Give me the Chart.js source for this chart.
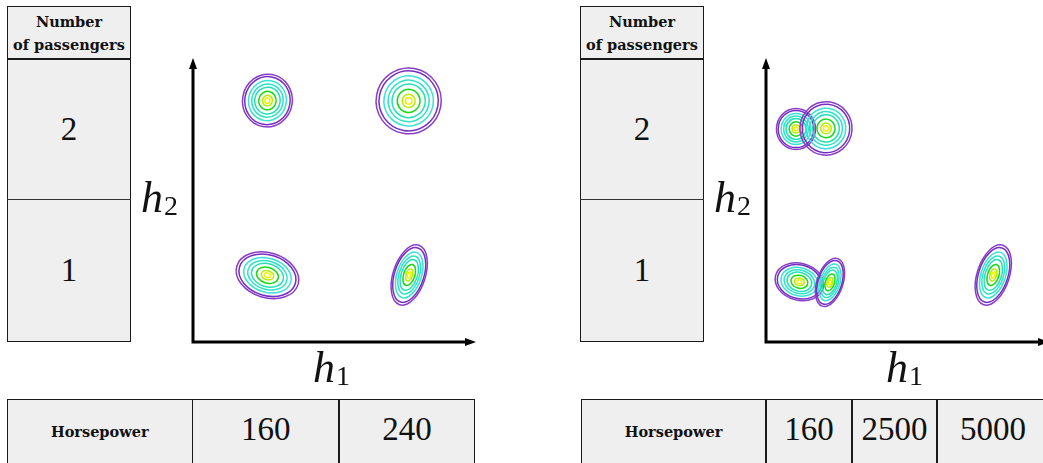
<!DOCTYPE html>
<html>
<head>
<meta charset="utf-8">
<style>
  html, body { margin: 0; padding: 0; background: #fff; width: 1043px; height: 463px; overflow: hidden; }
  body { position: relative; color: #111; }
  .box { position: absolute; box-sizing: border-box; background: #efefef; border: 1.5px solid #1a1a1a; }
  .rule { position: absolute; background: #1a1a1a; }
  .txt { position: absolute; display: flex; align-items: center; justify-content: center; text-align: center; }
  .head { flex-direction: column; }
  .lab { position: absolute; white-space: nowrap; }
  canvas { position: absolute; }
</style>
<script src="https://cdn.jsdelivr.net/npm/chart.js@4.4.1/dist/chart.umd.min.js"></script>
</head>
<body>
<canvas id="plotL" width="289" height="290" style="left:187px; top:58px"></canvas>
<canvas id="plotR" width="289" height="290" style="left:760px; top:58px"></canvas>
<script>
// category labels for the two lookup tables
const passengerTitle = ['Number', 'of passengers'];
const passengerRows = ['2', '1'];
const hpTitle = 'Horsepower';
const hpLeft = ['160', '240'];
const hpRight = ['160', '2500', '5000'];

// contour rings, outermost first: fraction of the outer radius and colour
const ringLevels = [1.0, 0.91, 0.76, 0.63, 0.51, 0.35, 0.20, 0.10];
const ringColors = ['#8a3cc8', '#7430c2', '#3ae2d6', '#2ee4c4', '#24e0b8', '#14dc14', '#b4ee00', '#f2f000'];

// left plot: one blob per (horsepower, passengers) cell
const leftX     = [2.63, 7.62, 2.63, 7.64];
const leftY     = [8.50, 8.49, 2.35, 2.36];
const leftRx    = [0.88, 1.15, 1.13, 0.57];
const leftRy    = [0.93, 1.16, 0.79, 1.10];
const leftAngle = [-10, -10, -17, -18];

// right plot: blobs squeezed towards the origin plus one far out on h1
const rightX     = [1.06, 2.12, 1.18, 2.26, 8.03];
const rightY     = [7.50, 7.52, 2.12, 2.10, 2.36];
const rightRx    = [0.69, 0.92, 0.87, 0.46, 0.57];
const rightRy    = [0.72, 0.94, 0.65, 0.88, 1.10];
const rightAngle = [0, -5, -15, -18, -18];

const SERIF = '"Liberation Serif", "Times New Roman", serif';
const HEAD = '"DejaVu Serif", serif';

// --- tables ---
function el(cls, x, y, w, h, html, font) {
  const d = document.createElement('div');
  d.className = cls;
  Object.assign(d.style, { left: x + 'px', top: y + 'px', width: w + 'px', height: h + 'px' });
  if (font) Object.assign(d.style, font);
  if (html != null) d.innerHTML = html;
  document.body.appendChild(d);
  return d;
}

const bigFont = { fontFamily: SERIF, fontSize: '33px' };
const headFont = { fontFamily: HEAD, fontWeight: 'bold', fontSize: '14.5px', lineHeight: '23px' };

function passengerTable(x0) {
  el('box', x0, 6, 124, 336);
  el('rule', x0, 58, 124, 2);
  el('rule', x0, 199, 124, 1).style.background = '#333';
  el('txt head', x0, 7, 124, 52, passengerTitle.map(s => '<div>' + s + '</div>').join(''), headFont);
  el('txt big', x0, 59, 124, 141, passengerRows[0], bigFont);
  el('txt big', x0, 200, 124, 141, passengerRows[1], bigFont);
}

function hpTable(edges, values) {
  const x0 = edges[0], x1 = edges[edges.length - 1];
  el('box', x0, 399, x1 - x0, 80);
  for (let i = 1; i < edges.length - 1; i++) el('rule', edges[i] - 0.75, 399, 1.5, 80);
  el('txt head', x0, 401, edges[1] - x0, 60, hpTitle, headFont);
  values.forEach((v, i) => el('txt big', edges[i + 1], 399, edges[i + 2] - edges[i + 1], 60, v, bigFont));
}

passengerTable(7);
passengerTable(580);
hpTable([7, 192.5, 339, 475], hpLeft);
hpTable([581, 766, 852, 937, 1049], hpRight);

// axis names, italic h with a lowered index
function axisName(x, y, idx) {
  const html = '<i style="font-size:44px">h</i>' +
    '<span style="font-size:28px; position:relative; top:3px; margin-left:1px">' + idx + '</span>';
  el('lab', x, y, 50, 44, html, { fontFamily: SERIF, lineHeight: '44px' });
}
axisName(141, 176, '2');
axisName(714, 176, '2');
axisName(313, 346, '1');
axisName(886, 346, '1');

// --- plots ---
const contourRings = {
  id: 'contourRings',
  afterDatasetsDraw(chart) {
    const { ctx, scales: { x, y } } = chart;
    ctx.save();
    chart.data.datasets[0].data.forEach(p => {
      const cx = x.getPixelForValue(p.x), cy = y.getPixelForValue(p.y);
      const rx = x.getPixelForValue(p.x + p.rx) - cx;
      const ry = cy - y.getPixelForValue(p.y + p.ry);
      ringLevels.forEach((f, i) => {
        ctx.beginPath();
        ctx.ellipse(cx, cy, rx * f, ry * f, -p.angle * Math.PI / 180, 0, Math.PI * 2);
        ctx.strokeStyle = ringColors[i];
        ctx.lineWidth = 1.5;
        ctx.stroke();
      });
    });
    ctx.restore();
  }
};

const arrowAxes = {
  id: 'arrowAxes',
  afterDraw(chart) {
    const { ctx, chartArea: a } = chart;
    const head = 11, half = 4;
    ctx.save();
    ctx.strokeStyle = '#000';
    ctx.fillStyle = '#000';
    ctx.lineWidth = 3;
    ctx.lineJoin = 'miter';
    ctx.beginPath();
    ctx.moveTo(a.left, a.top + head - 1);
    ctx.lineTo(a.left, a.bottom);
    ctx.lineTo(a.right - head + 1, a.bottom);
    ctx.stroke();
    ctx.beginPath();
    ctx.moveTo(a.left, a.top);
    ctx.lineTo(a.left - half, a.top + head);
    ctx.lineTo(a.left + half, a.top + head);
    ctx.closePath();
    ctx.fill();
    ctx.beginPath();
    ctx.moveTo(a.right, a.bottom);
    ctx.lineTo(a.right - head, a.bottom - half);
    ctx.lineTo(a.right - head, a.bottom + half);
    ctx.closePath();
    ctx.fill();
    ctx.restore();
  }
};

function makePlot(id, xs, ys, rxs, rys, angles) {
  const blobs = xs.map((x, i) => ({ x, y: ys[i], rx: rxs[i], ry: rys[i], angle: angles[i] }));
  return new Chart(document.getElementById(id), {
    type: 'scatter',
    data: { datasets: [{ data: blobs, pointRadius: 0, pointHoverRadius: 0 }] },
    options: {
      responsive: false,
      animation: false,
      events: [],
      layout: { padding: { left: 6, bottom: 6, top: 0, right: 0 } },
      scales: {
        x: { type: 'linear', min: 0, max: 10, display: false },
        y: { type: 'linear', min: 0, max: 10, display: false }
      },
      plugins: { legend: { display: false }, tooltip: { enabled: false } }
    },
    plugins: [contourRings, arrowAxes]
  });
}

makePlot('plotL', leftX, leftY, leftRx, leftRy, leftAngle);
makePlot('plotR', rightX, rightY, rightRx, rightRy, rightAngle);
</script>
</body>
</html>
